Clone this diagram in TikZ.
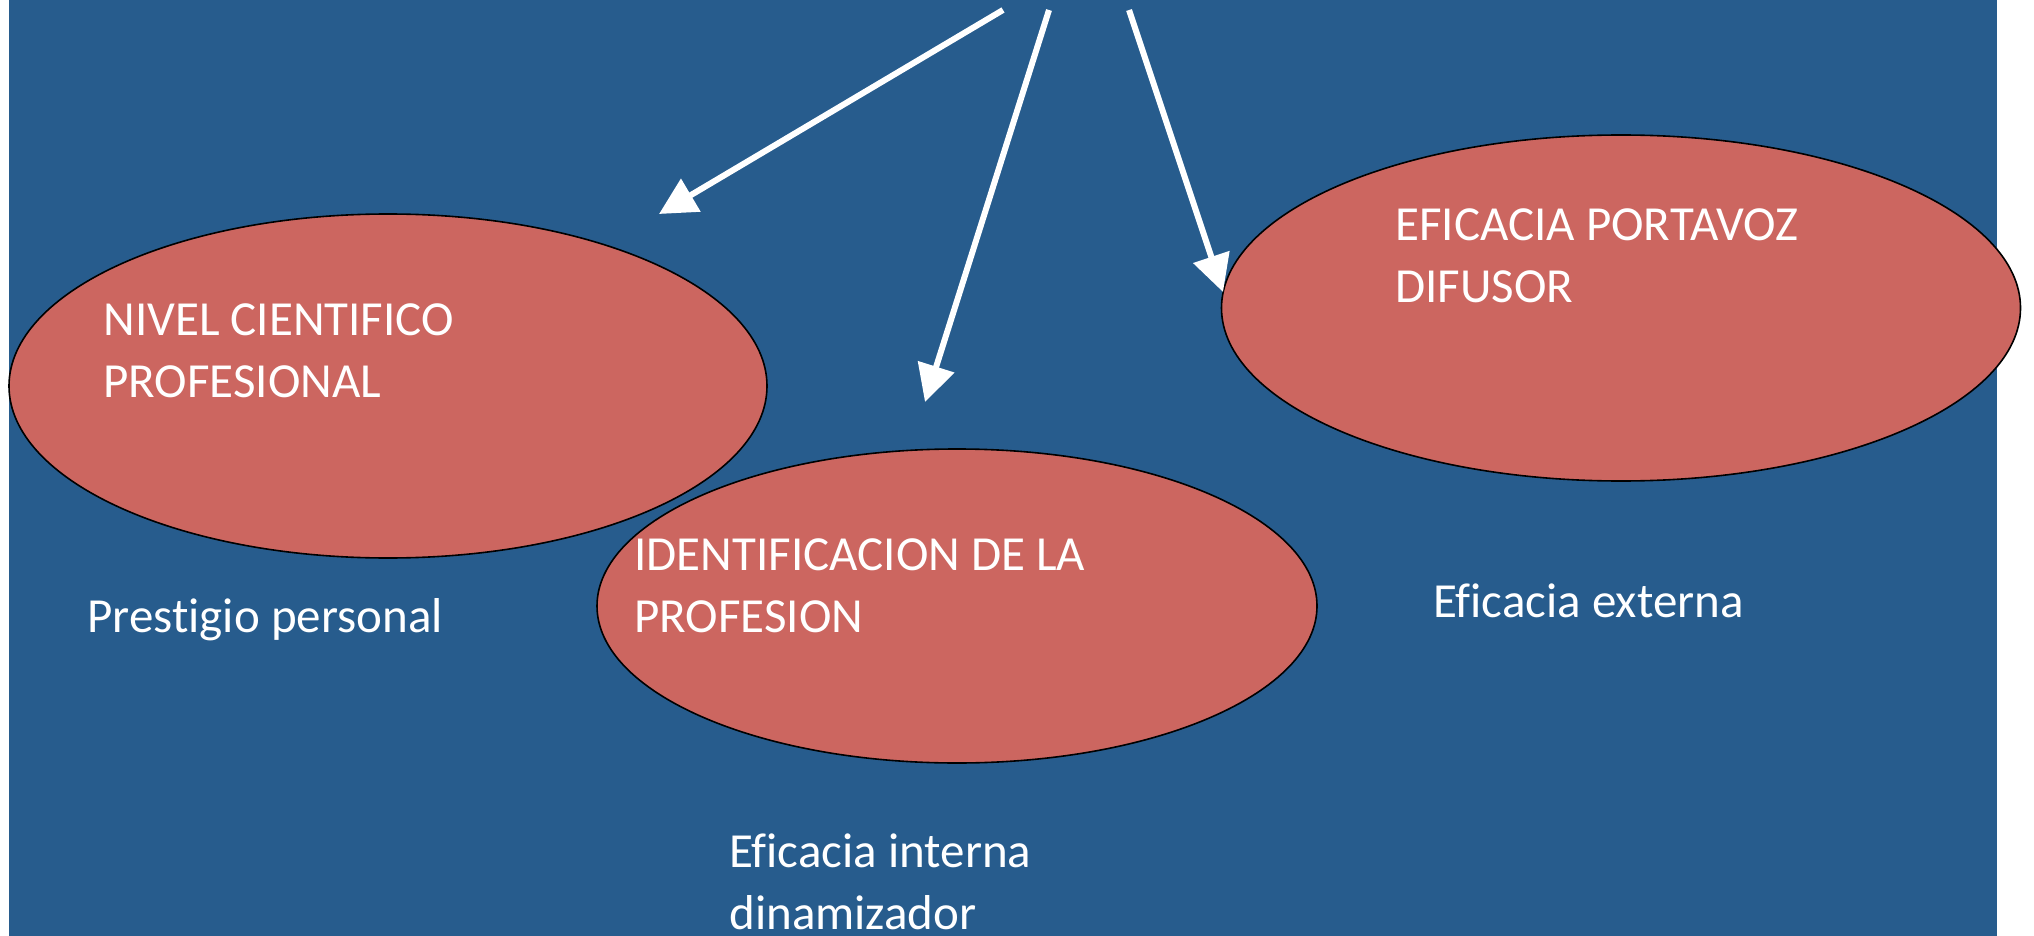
\documentclass[tikz,border=0pt]{standalone}
\usepackage{fontspec}
\setmainfont[Ligatures={NoCommon}]{Carlito}
\usetikzlibrary{arrows.meta,shapes.geometric}
\definecolor{bgblue}{RGB}{39,92,141}
\definecolor{ovalred}{RGB}{204,102,96}
\tikzset{
  oval/.style={ellipse, draw=black, line width=0.8pt, fill=ovalred, inner sep=0pt},
  lbl/.style={anchor=base west, inner sep=0pt, text=white, align=left,
    font=\fontsize{24.5}{31}\selectfont},
  wharrow/.style={draw=white, line width=3pt, line cap=butt,
    -{Triangle[length=18.5pt,width=18.5pt]}}
}
\begin{document}
\begin{tikzpicture}[x=0.5pt,y=-0.5pt]
\useasboundingbox (0,0) rectangle (2034,936);
\fill[white] (0,0) rectangle (2034,936);
\fill[bgblue] (9,0) rectangle (1997,936);
\node[oval, minimum width=379pt, minimum height=172pt] (e1) at (388,386) {};
\node[oval, minimum width=360pt, minimum height=157pt] (e2) at (957,606) {};
\node[oval, minimum width=399.5pt, minimum height=173pt] (e3) at (1621,308) {};
\node[lbl] (t1) at (103,397) {NIVEL CIENTIFICO\\PROFESIONAL};
\node[lbl] (t2) at (634,632) {IDENTIFICACION DE LA\\PROFESION};
\node[lbl] (t3) at (1395,302) {EFICACIA PORTAVOZ\\DIFUSOR};
\node[lbl] (l1) at (87,632) {Prestigio personal};
\node[lbl] (l2) at (1433,617) {Eficacia externa};
\node[lbl] (l3) at (729,929) {Eficacia interna\\dinamizador};
\coordinate (s1) at (1003,10);
\coordinate (s2) at (1049,10);
\coordinate (s3) at (1129,10);
\coordinate (p1) at (659,214);
\coordinate (p2) at (925,402);
\coordinate (p3) at (1223,292);
\draw[wharrow] (s1) -- (p1);
\draw[wharrow] (s2) -- (p2);
\draw[wharrow] (s3) -- (p3);
\end{tikzpicture}
\end{document}
